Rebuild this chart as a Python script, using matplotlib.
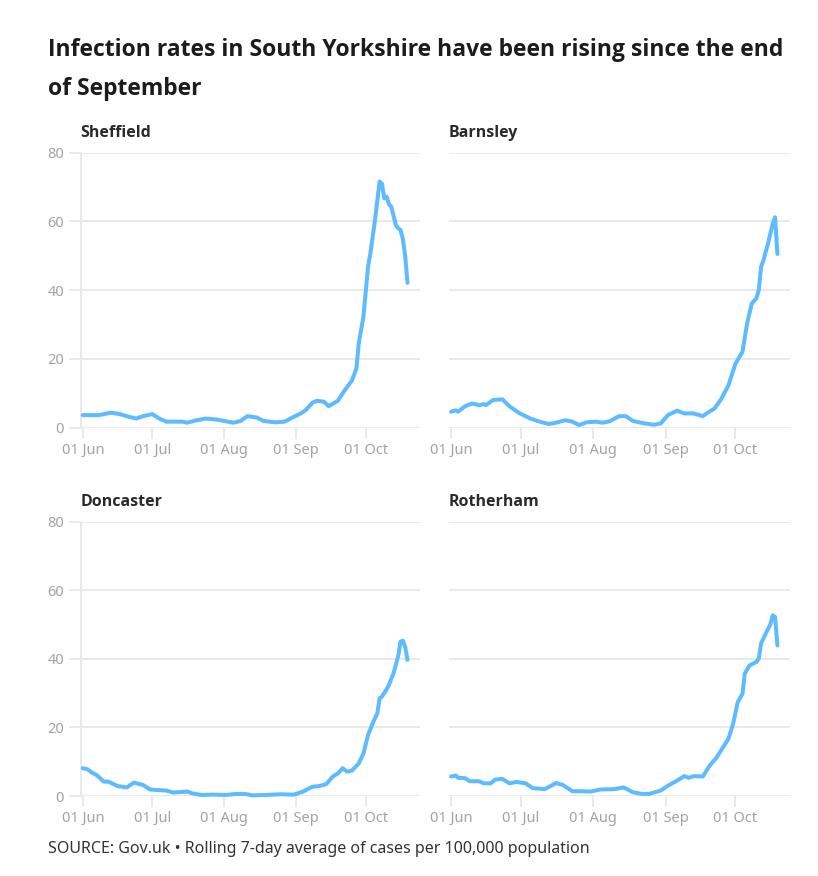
import numpy as np
import pandas as pd
import matplotlib
matplotlib.use('Agg')
import matplotlib.pyplot as plt
import matplotlib.dates as mdates

# Days since 1 June 2020 and rolling 7-day rate per 100,000
sheffieldDays = [0, 7, 12, 16, 20, 23, 26, 30, 33, 36, 43, 45, 49, 53, 58, 61, 65, 68, 71, 75, 78,
                 83, 87, 91, 94, 96, 99, 101, 104, 106, 110, 113, 116, 118, 119, 121, 123, 124, 126,
                 128, 129, 130, 131, 132, 133, 135, 136, 137, 138, 139, 140]
sheffieldRate = [3.6, 3.6, 4.3, 3.9, 3.1, 2.6, 3.3, 3.9, 2.6, 1.7, 1.7, 1.4, 2.1, 2.6, 2.3, 1.9, 1.4, 1.9, 3.3, 2.9, 1.9,
                 1.5, 1.7, 3.1, 4.1, 5.0, 7.2, 7.8, 7.5, 6.2, 7.8, 10.9, 13.6, 17.2, 24.5, 32.2, 46.8, 50.7, 60.4,
                 71.6, 71.0, 66.7, 67.2, 65.0, 64.3, 58.9, 58.0, 57.5, 55.0, 50.0, 42.1]

barnsleyDays = [0, 2, 3, 6, 9, 12, 14, 15, 18, 22, 25, 29, 34, 38, 42, 45, 49, 52, 55, 58, 62, 65, 68,
                72, 75, 78, 83, 87, 90, 93, 97, 100, 104, 108, 110, 113, 116, 119, 122, 125, 127, 129,
                131, 132, 133, 134, 135, 136, 138, 139, 140]
barnsleyRate = [4.6, 5.0, 4.6, 6.2, 7.0, 6.5, 6.8, 6.5, 8.0, 8.2, 6.2, 4.3, 2.6, 1.7, 1.0, 1.4, 2.1, 1.7, 0.7, 1.5, 1.7, 1.4, 1.8,
                3.3, 3.3, 1.9, 1.2, 0.8, 1.2, 3.6, 4.9, 4.1, 4.1, 3.3, 4.3, 5.5, 8.4, 12.3, 18.6, 22.0, 30.3, 36.1,
                37.6, 40.0, 46.8, 48.7, 51.2, 53.6, 59.4, 61.2, 50.5]

doncasterDays = [0, 2, 4, 6, 9, 11, 15, 19, 22, 26, 29, 33, 36, 39, 45, 47, 51, 56, 62, 66, 70, 73, 79,
                 85, 91, 95, 99, 102, 105, 108, 110, 112, 114, 116, 119, 121, 123, 125, 127, 128, 129,
                 131, 132, 134, 136, 137, 138, 139, 140]
doncasterRate = [8.1, 7.8, 6.8, 6.1, 4.2, 4.2, 2.9, 2.5, 3.9, 3.2, 1.9, 1.7, 1.6, 1.0, 1.3, 0.8, 0.3, 0.4, 0.3, 0.6, 0.6, 0.2, 0.3,
                 0.5, 0.4, 1.3, 2.7, 2.9, 3.5, 5.8, 6.6, 8.1, 7.1, 7.4, 9.5, 12.4, 17.8, 21.2, 24.1, 28.5, 29.0,
                 31.1, 32.4, 35.8, 40.8, 45.0, 45.3, 43.5, 39.7]

rotherhamDays = [0, 2, 3, 6, 8, 12, 14, 17, 19, 22, 25, 28, 32, 35, 40, 43, 45, 48, 52, 55, 60, 64, 70,
                 74, 78, 82, 85, 90, 93, 97, 100, 102, 104, 108, 111, 114, 116, 119, 121, 123, 125, 126,
                 128, 131, 132, 133, 135, 137, 138, 139, 140]
rotherhamRate = [5.7, 6.0, 5.3, 5.2, 4.3, 4.3, 3.7, 3.7, 4.8, 5.0, 3.7, 4.1, 3.7, 2.3, 2.0, 3.0, 3.8, 3.2, 1.4, 1.4, 1.3, 1.9, 2.0,
                 2.5, 1.1, 0.6, 0.6, 1.6, 3.0, 4.5, 5.8, 5.3, 5.8, 5.7, 8.9, 11.3, 13.5, 16.7, 21.1, 27.4, 29.8, 35.7,
                 38.1, 39.1, 40.1, 44.5, 47.4, 50.1, 52.7, 52.2, 43.9]

areaNames = ['Sheffield', 'Barnsley', 'Doncaster', 'Rotherham']
areaDays = [sheffieldDays, barnsleyDays, doncasterDays, rotherhamDays]
areaRates = [sheffieldRate, barnsleyRate, doncasterRate, rotherhamRate]

tickDates = ['2020-06-01', '2020-07-01', '2020-08-01', '2020-09-01', '2020-10-01']
tickLabels = ['01 Jun', '01 Jul', '01 Aug', '01 Sep', '01 Oct']
yTicks = [0, 20, 40, 60, 80]

titleLines = ['Infection rates in South Yorkshire have been rising since the end', 'of September']
sourceText = 'SOURCE: Gov.uk \u2022 Rolling 7-day average of cases per 100,000 population'

lineColor = '#5dbcff'
gridColor = '#e9e9e9'
tickColor = '#a3a3a3'
textColor = '#1c1c1c'

plt.rcParams['font.family'] = ['Noto Sans', 'DejaVu Sans']
boldFont = ['Open Sans', 'DejaVu Sans']

W, H = 818, 876
fig = plt.figure(figsize=(W / 100, H / 100), dpi=100)

# axes boxes in pixels: left, right, top, bottom
boxes = [(80.7, 420, 152.7, 427.5), (449, 790, 152.7, 427.5),
         (80.7, 420, 521.7, 796), (449, 790, 521.7, 796)]

start = pd.Timestamp('2020-06-01')
xmin = mdates.date2num(start - pd.Timedelta(days=0.9))
xmax = mdates.date2num(start + pd.Timedelta(days=145.4))

for i in range(4):
    l, r, t, b = boxes[i]
    ax = fig.add_axes([l / W, 1 - b / H, (r - l) / W, (b - t) / H])
    dates = start + pd.to_timedelta(areaDays[i], unit='D')
    ax.plot(mdates.date2num(dates), areaRates[i], color=lineColor, lw=2.9,
            solid_joinstyle='round', solid_capstyle='round', clip_on=False, zorder=3)
    ax.set_xlim(xmin, xmax)
    ax.set_ylim(0, 80)
    for s in ['top', 'right', 'bottom']:
        ax.spines[s].set_visible(False)
    leftCol = (i % 2 == 0)
    if leftCol:
        ax.spines['left'].set_color(gridColor)
        ax.spines['left'].set_linewidth(1.4)
    else:
        ax.spines['left'].set_visible(False)
    ax.set_yticks(yTicks)
    ax.yaxis.grid(True, color=gridColor, lw=1.4)
    ax.set_axisbelow(True)
    if leftCol:
        ax.tick_params(axis='y', length=9, width=1.4, color=gridColor, labelcolor=tickColor,
                       labelsize=10.5, pad=3)
    else:
        ax.tick_params(axis='y', length=0, labelleft=False)
    ax.set_xticks(mdates.date2num(pd.to_datetime(tickDates)))
    ax.set_xticklabels(tickLabels)
    ax.tick_params(axis='x', length=8, width=1.4, color=gridColor, labelcolor=tickColor,
                   labelsize=10.5, pad=3)
    ax.set_facecolor('none')
    fig.text(l / W, 1 - 137 / H if i < 2 else 1 - 506 / H, areaNames[i], fontsize=11.5,
             fontweight='bold', family=boldFont, color='#2a2a2a', ha='left', va='baseline')

fig.text(48 / W, 1 - 56 / H, titleLines[0], fontsize=16.5, fontweight='bold', family=boldFont,
         color=textColor, ha='left', va='baseline')
fig.text(48 / W, 1 - 95 / H, titleLines[1], fontsize=16.5, fontweight='bold', family=boldFont,
         color=textColor, ha='left', va='baseline')
fig.text(48 / W, 1 - 853 / H, sourceText, fontsize=11.5, color='#333333', ha='left', va='baseline')

fig.savefig('out.png', dpi=100)
